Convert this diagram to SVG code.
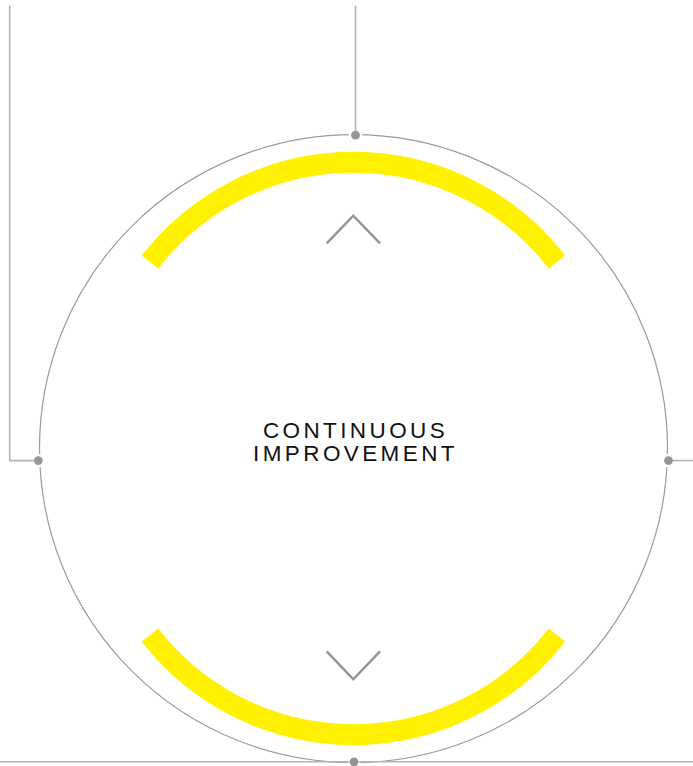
<svg xmlns="http://www.w3.org/2000/svg" width="693" height="766" viewBox="0 0 693 766">
<style>
.ring{fill:none;stroke:#9a9a9c;stroke-width:1.2}
.arc{fill:none;stroke:#FFF100;stroke-width:21;stroke-linecap:butt}
.chev{fill:none;stroke:#939598;stroke-width:2.5}
.dot{fill:#939598;stroke:#ffffff;stroke-width:5;paint-order:stroke}
.conn{fill:none;stroke:#b4b4b6;stroke-width:1.6}
.lbl{font-family:"Liberation Sans",Arial,sans-serif;font-size:22.5px;letter-spacing:3.4px;fill:#111111;text-anchor:middle}
</style>
<rect width="693" height="766" fill="#ffffff"/>
<g id="cycle">
<circle class="ring" cx="353.5" cy="448.6" r="314"/>
<path class="arc" d="M150,262 A257.5,257.5 0 0 1 557,262"/>
<path class="arc" d="M150,635 A257.5,257.5 0 0 0 557,635"/>
<polyline class="chev" points="326.7,243.3 353.3,215.7 380,243.3"/>
<polyline class="chev" points="326.7,651.3 353.3,679.3 380,651.3"/>
<text class="lbl" x="355.5" y="438">CONTINUOUS</text>
<text class="lbl" x="355.5" y="461">IMPROVEMENT</text>
</g>
<g id="dot-top"><circle class="dot" cx="355.5" cy="135.2" r="4.4"/></g>
<g id="dot-left"><circle class="dot" cx="38.3" cy="460.6" r="4.4"/></g>
<g id="dot-right"><circle class="dot" cx="668.5" cy="460.6" r="4.4"/></g>
<g id="dot-bottom"><circle class="dot" cx="354" cy="761.8" r="4.4"/></g>
<g id="connectors">
<polyline class="conn" points="9.7,5.5 9.7,460.6 33.9,460.6"/>
<line class="conn" x1="355.5" y1="5.5" x2="355.5" y2="130.8"/>
<line class="conn" x1="672.9" y1="460.6" x2="693" y2="460.6"/>
<line class="conn" x1="0" y1="761.8" x2="349.6" y2="761.8"/>
<line class="conn" x1="358.4" y1="761.8" x2="693" y2="761.8"/>
</g>
</svg>
